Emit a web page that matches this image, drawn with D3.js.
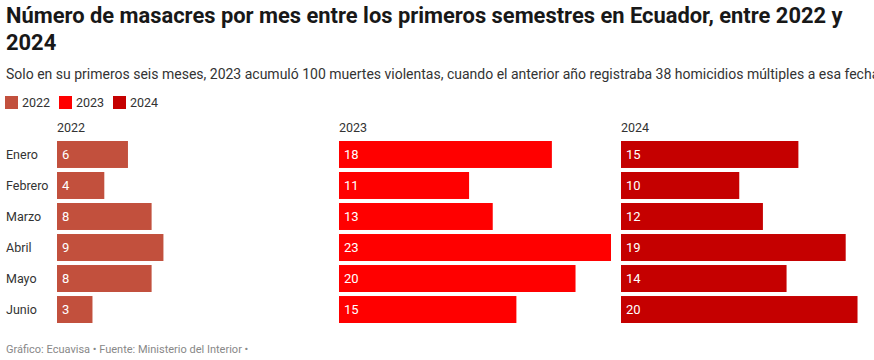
<!DOCTYPE html>
<html><head><meta charset="utf-8">
<script src="https://cdn.jsdelivr.net/npm/d3@7"></script>
<style>
body{margin:0;background:#fff;font-family:Roboto,"Noto Sans",sans-serif;}
svg{display:block;}
</style></head><body>
<svg id="c" width="874" height="360"></svg>
<script>
const months = ["Enero","Febrero","Marzo","Abril","Mayo","Junio"];
const years = ["2022","2023","2024"];
const v2022 = [6,4,8,9,8,3];
const v2023 = [18,11,13,23,20,15];
const v2024 = [15,10,12,19,14,20];
const colors = ["#c2503d","#ff0000","#c50000"];
const titleLines = ["Número de masacres por mes entre los primeros semestres en Ecuador, entre 2022 y","2024"];
const subtitle = "Solo en su primeros seis meses, 2023 acumuló 100 muertes violentas, cuando el anterior año registraba 38 homicidios múltiples a esa fecha";
const footer = "Gráfico: Ecuavisa • Fuente: Ministerio del Interior •";
const series = [v2022,v2023,v2024];

const svg = d3.select("#c");
svg.append("text").attr("x",6).attr("y",23).attr("font-size",21.9).attr("font-weight",700).attr("fill","#181818")
  .selectAll("tspan").data(titleLines).join("tspan").attr("x",6).attr("dy",(d,i)=>i?27:0).text(d=>d);
svg.append("text").attr("x",6).attr("y",79).attr("font-size",14).attr("fill","#333").text(subtitle);

const leg = svg.append("g").selectAll("g").data(years).join("g").attr("transform",(d,i)=>`translate(${5+i*54},96)`);
leg.append("rect").attr("width",13).attr("height",13).attr("fill",(d,i)=>colors[i]);
leg.append("text").attr("x",17).attr("y",11).attr("font-size",12.5).attr("fill","#333").text(d=>d);

const x = d3.scaleLinear().domain([0,23]).range([0,272]);
const y = d3.scaleBand().domain(months).range([141,323]).paddingInner(0.13).paddingOuter(0);
const panelX = d3.scalePoint().domain(years).range([57,621]);

svg.append("g").selectAll("text").data(months).join("text")
  .attr("x",6).attr("y",d=>y(d)+y.bandwidth()/2+4.5).attr("font-size",12.5).attr("fill","#333").text(d=>d);

years.forEach((yr,i)=>{
  const g = svg.append("g").attr("transform",`translate(${panelX(yr)},0)`);
  g.append("text").attr("x",0).attr("y",132).attr("font-size",12.5).attr("fill","#333").text(yr);
  const data = months.map((m,j)=>({m,v:series[i][j]}));
  g.selectAll("rect").data(data).join("rect")
    .attr("x",x(0)).attr("y",d=>y(d.m)).attr("width",d=>x(d.v)).attr("height",y.bandwidth()).attr("fill",colors[i]);
  g.selectAll("text.v").data(data).join("text").attr("class","v")
    .attr("x",5).attr("y",d=>y(d.m)+y.bandwidth()/2+4.5).attr("font-size",13).attr("font-weight",400).attr("fill","#fff").text(d=>d.v);
});

svg.append("text").attr("x",6).attr("y",353).attr("font-size",11).attr("fill","#888").text(footer);
</script></body></html>
